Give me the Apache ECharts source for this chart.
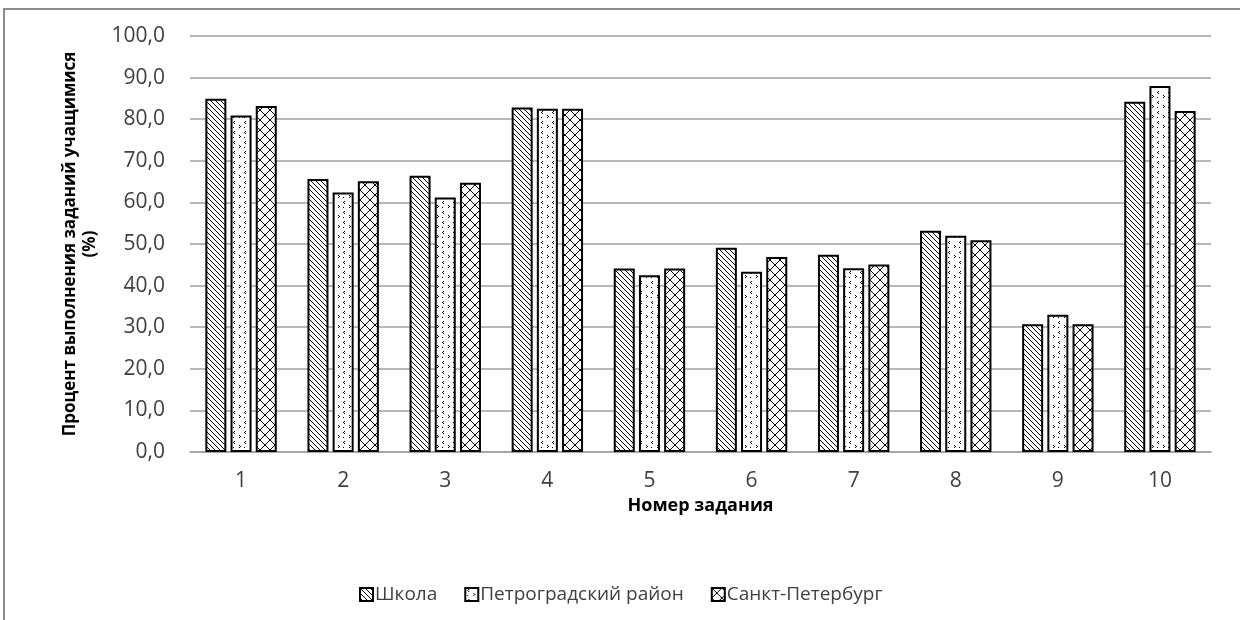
<!DOCTYPE html>
<html>
<head>
<meta charset="utf-8">
<script src="https://cdn.jsdelivr.net/npm/echarts@6/dist/echarts.min.js"></script>
<style>
  html, body { margin: 0; padding: 0; background: #fff; }
  #chart { width: 1240px; height: 620px; }
</style>
</head>
<body>
<div id="chart"></div>
<script>
const categories = ['1', '2', '3', '4', '5', '6', '7', '8', '9', '10'];
const schoolValues = [84.9, 65.6, 66.4, 82.8, 44.1, 49.1, 47.4, 53.2, 30.7, 84.2];
const districtValues = [80.9, 62.4, 61.2, 82.5, 42.5, 43.3, 44.2, 52.0, 33.0, 88.0];
const cityValues = [83.2, 65.1, 64.7, 82.5, 44.1, 46.9, 45.1, 50.9, 30.7, 82.0];
const seriesNames = ['Школа', 'Петроградский район', 'Санкт-Петербург'];

const FONT = '"Open Sans", "Noto Sans", sans-serif';

// штриховки как в Excel
function makeTile(w, h, draw) {
  const c = document.createElement('canvas');
  c.width = w;
  c.height = h;
  const ctx = c.getContext('2d');
  ctx.fillStyle = '#fff';
  ctx.fillRect(0, 0, w, h);
  ctx.strokeStyle = '#000';
  ctx.fillStyle = '#000';
  ctx.lineWidth = 1;
  draw(ctx);
  return c;
}

// широкая диагональ вниз
const hatchTile = makeTile(5, 5, function (ctx) {
  ctx.beginPath();
  for (let k = -5; k <= 5; k += 5) {
    ctx.moveTo(k, 0);
    ctx.lineTo(k + 5, 5);
  }
  ctx.stroke();
});

// редкие уголки "<" и ">"
const dotTile = makeTile(11, 10, function (ctx) {
  ctx.fillRect(3, 1, 1, 1);
  ctx.fillRect(2, 2, 1, 1);
  ctx.fillRect(3, 3, 1, 1);
  ctx.fillRect(8, 5, 1, 1);
  ctx.fillRect(9, 6, 1, 1);
  ctx.fillRect(8, 7, 1, 1);
  ctx.fillRect(2, 7, 1, 1);
});

// решётка из диагоналей
const crossTile = makeTile(10, 10, function (ctx) {
  ctx.beginPath();
  ctx.moveTo(0, 0);
  ctx.lineTo(10, 10);
  ctx.moveTo(10, 0);
  ctx.lineTo(0, 10);
  ctx.stroke();
});

function barSeries(name, data, tile) {
  return {
    name: name,
    type: 'bar',
    data: data,
    barWidth: 21,
    barGap: '20%',
    itemStyle: {
      color: { image: tile, repeat: 'repeat' },
      borderColor: '#000',
      borderWidth: 2
    }
  };
}

const chart = echarts.init(document.getElementById('chart'));
chart.setOption({
  animation: false,
  backgroundColor: '#fff',
  graphic: [
    {
      type: 'rect',
      shape: { x: 4, y: 9, width: 1400, height: 800 },
      style: { fill: 'none', stroke: '#8c8c8c', lineWidth: 2 },
      silent: true
    }
  ],
  grid: { left: 190, right: 29, top: 36, bottom: 168 },
  legend: {
    left: 354,
    top: 580,
    icon: 'rect',
    itemWidth: 13,
    itemHeight: 13,
    itemGap: 27,
    textStyle: { fontFamily: FONT, fontSize: 19, color: '#404040', padding: [0, 0, 0, -3] },
    data: seriesNames
  },
  xAxis: {
    type: 'category',
    data: categories,
    name: 'Номер задания',
    nameLocation: 'middle',
    nameGap: 40,
    nameTextStyle: { fontFamily: FONT, fontSize: 18, fontWeight: 'bold', color: '#000' },
    axisTick: { show: false },
    axisLine: { lineStyle: { color: '#a0a0a0', width: 1.5 } },
    axisLabel: { fontFamily: FONT, fontSize: 21, color: '#404040', margin: 19 }
  },
  yAxis: {
    type: 'value',
    min: 0,
    max: 100,
    interval: 10,
    name: 'Процент выполнения заданий учащимися\n(%)',
    nameLocation: 'middle',
    nameRotate: 90,
    nameGap: 90,
    nameTextStyle: { fontFamily: FONT, fontSize: 17, fontWeight: 'bold', color: '#000', lineHeight: 20 },
    axisLine: { show: false },
    axisTick: { show: false },
    splitLine: { lineStyle: { color: '#a0a0a0', width: 1.5 } },
    axisLabel: {
      fontFamily: FONT,
      fontSize: 21,
      color: '#404040',
      margin: 25,
      formatter: function (v) { return v.toFixed(1).replace('.', ','); }
    }
  },
  series: [
    barSeries(seriesNames[0], schoolValues, hatchTile),
    barSeries(seriesNames[1], districtValues, dotTile),
    barSeries(seriesNames[2], cityValues, crossTile)
  ]
});
</script>
</body>
</html>
